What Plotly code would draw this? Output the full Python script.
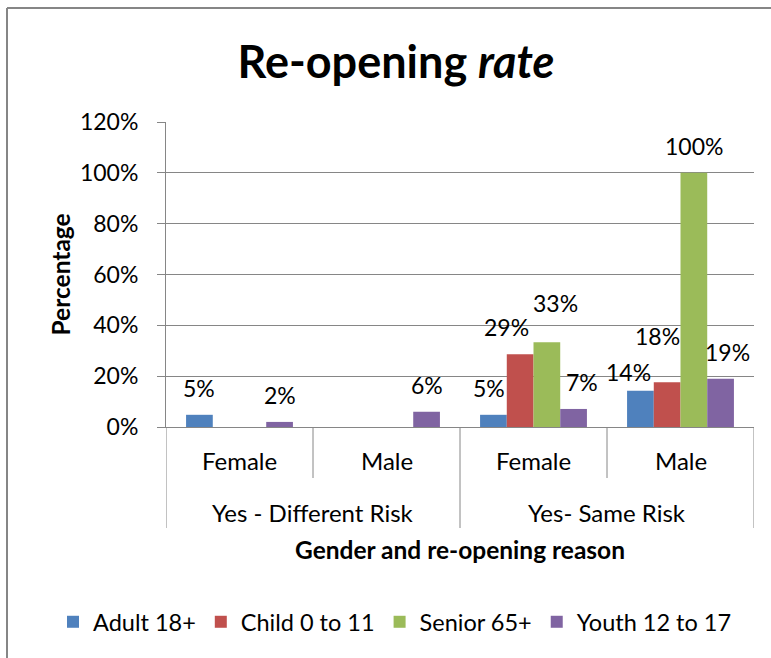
import plotly.graph_objects as go

# ---------------- data ----------------
reasons = ["Yes - Different Risk", "Yes - Different Risk", "Yes- Same Risk", "Yes- Same Risk"]
genders = ["Female", "Male", "Female", "Male"]
series_names = ["Adult 18+", "Child 0 to 11", "Senior 65+", "Youth 12 to 17"]
adult = [0.048, None, 0.048, 0.143]
child = [None, None, 0.286, 0.176]
senior = [None, None, 0.333, 1.0]
youth = [0.02, 0.06, 0.071, 0.19]
y_ticks = [0, 0.2, 0.4, 0.6, 0.8, 1.0, 1.2]
chart_title = "<b>Re-opening <i>rate</i></b>"
x_title = "Gender and re-opening reason"
y_title = "Percentage"

# ---------------- style ----------------
colors = ["#4F81BD", "#C0504D", "#9BBB59", "#8064A2"]
FONT = "Lato"
GRAY = "#868686"
W, H = 771, 658
L, R, T, B = 166, 17, 122, 231
PW, PH = W - L - R, H - T - B
BARGAP = 0.273
LABEL_GAP = 27
TICK_SIZE = 23
CAT_SIZE = 24
LEG_SIZE = 23.5
AXT_SIZE = 24.5
# manual label nudges (dx, dy in px) as placed in the original
nudges = {(0, 2): (-4, 0), (1, 2): (-14, 0), (2, 2): (9, 12), (3, 2): (8, 0),
          (0, 3): (-12, -8), (1, 3): (-10, 19), (3, 3): (7, 0)}


def px_x(px):
    return (px - L) / PW


def px_y(py):
    return (H - B - py) / PH


cats = [f"{r} | {g}" for r, g in zip(reasons, genders)]
all_series = [adult, child, senior, youth]

fig = go.Figure()
for name, vals, col in zip(series_names, all_series, colors):
    fig.add_trace(go.Bar(x=cats, y=vals, name=name, marker_color=col,
                         marker_line_width=0, hoverinfo="skip"))

annotations = []
n = len(all_series)
w = (1 - BARGAP) / n
for i, vals in enumerate(all_series):
    for j, v in enumerate(vals):
        if v is None:
            continue
        dx, dy = nudges.get((i, j), (0, 0))
        annotations.append(dict(
            x=j + (i - (n - 1) / 2) * w, y=v, xref="x", yref="y",
            text=f"{round(v * 100)}%", showarrow=False,
            xshift=dx, yshift=LABEL_GAP + dy,
            font=dict(family=FONT, size=TICK_SIZE, color="black")))

# category labels
for j, g in enumerate(genders):
    annotations.append(dict(x=j, y=px_y(460), xref="x", yref="paper", text=g,
                            showarrow=False, yanchor="middle",
                            font=dict(family=FONT, size=CAT_SIZE, color="black")))
parents = []
for j, r in enumerate(reasons):
    if r not in [p[0] for p in parents]:
        parents.append([r, [j]])
    else:
        parents[-1][1].append(j)
for r, idx in parents:
    annotations.append(dict(x=sum(idx) / len(idx), y=px_y(512), xref="x", yref="paper",
                            text=r, showarrow=False, yanchor="middle",
                            font=dict(family=FONT, size=CAT_SIZE, color="black")))

annotations.append(dict(x=0.5, y=px_y(549), xref="paper", yref="paper",
                        text=f"<b>{x_title}</b>", showarrow=False, yanchor="middle",
                        font=dict(family=FONT, size=AXT_SIZE, color="black")))
annotations.append(dict(x=px_x(60), y=0.5, xref="paper", yref="paper",
                        text=f"<b>{y_title}</b>", showarrow=False, textangle=-90,
                        xanchor="center", yanchor="middle",
                        font=dict(family=FONT, size=AXT_SIZE, color="black")))

shapes = []
# dividers on the category axis
for k in range(len(cats) + 1):
    xpos = k - 0.5
    if k == 0 or k == len(cats) or reasons[k] != reasons[k - 1]:
        yend = px_y(528)
    else:
        yend = px_y(478)
    shapes.append(dict(type="line", xref="x", yref="paper", x0=xpos, x1=xpos,
                       y0=0, y1=yend, line=dict(color=GRAY, width=1)))
# chart border (top and left)
shapes.append(dict(type="line", xref="paper", yref="paper", x0=px_x(7), x1=px_x(771),
                   y0=px_y(8), y1=px_y(8), line=dict(color=GRAY, width=2)))
shapes.append(dict(type="line", xref="paper", yref="paper", x0=px_x(7), x1=px_x(7),
                   y0=px_y(8), y1=px_y(658), line=dict(color=GRAY, width=2)))

fig.update_layout(
    width=W, height=H,
    margin=dict(l=L, r=R, t=T, b=B, autoexpand=False),
    paper_bgcolor="white", plot_bgcolor="white",
    barmode="group", bargap=BARGAP, bargroupgap=0,
    title=dict(text=chart_title, x=396 / W, y=1 - 62 / H, xanchor="center",
               yanchor="middle", xref="container", yref="container",
               font=dict(family=FONT, size=45, color="black")),
    font=dict(family=FONT, color="black"),
    showlegend=True,
    legend=dict(orientation="h", x=px_x(53), xanchor="left", y=px_y(622),
                yanchor="middle", font=dict(family=FONT, size=LEG_SIZE, color="black"),
                traceorder="normal", itemclick=False, itemdoubleclick=False),
    xaxis=dict(type="category", range=[-0.5, len(cats) - 0.5], showticklabels=False,
               showline=True, linecolor=GRAY, linewidth=1, ticks="", showgrid=False,
               zeroline=False, fixedrange=True),
    yaxis=dict(range=[0, 1.2], tickvals=y_ticks, tickformat=".0%", ticks="outside",
               ticklen=8, tickcolor=GRAY, showline=True, linecolor=GRAY, linewidth=1,
               showgrid=True, gridcolor=GRAY, gridwidth=1, zeroline=False,
               ticklabelstandoff=14, fixedrange=True,
               tickfont=dict(family=FONT, size=TICK_SIZE, color="black")),
    annotations=annotations,
    shapes=shapes,
)

fig.write_html("out.html", config={"displayModeBar": False},
               post_script="document.body.style.margin='0';")
